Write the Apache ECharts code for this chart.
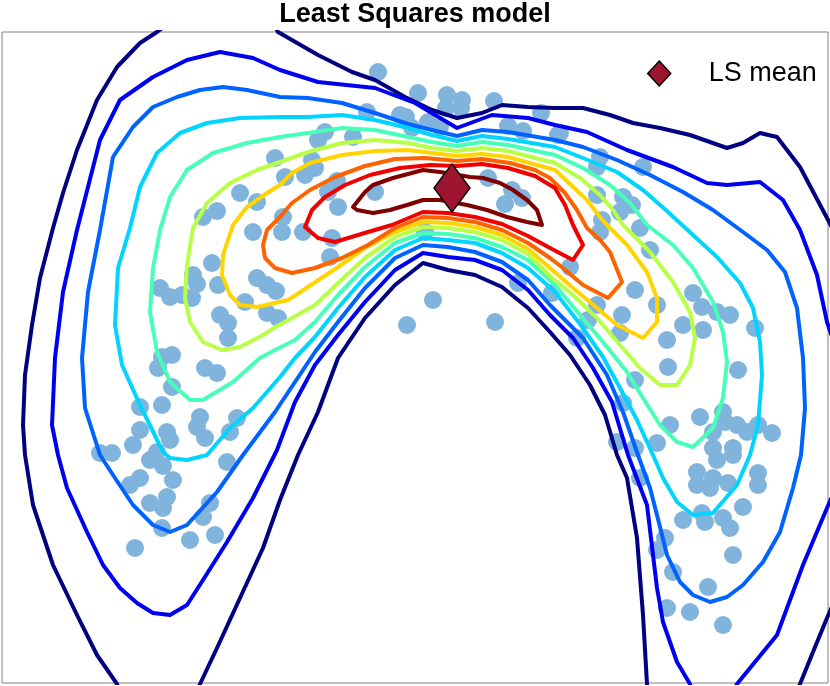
<!DOCTYPE html>
<html>
<head>
<meta charset="utf-8">
<script src="https://cdn.jsdelivr.net/npm/echarts@6/dist/echarts.min.js"></script>
<style>html,body{margin:0;padding:0;background:#fff}#c{width:830px;height:686px}</style>
</head>
<body>
<div id="c"></div>
<script>
// ---- data (x to the right, y downward) ----
const samples = [
[378,72],[418,93],[447,95],[462,100],[494,101],[446,108],[461,108],[406,117],[428,122],[440,127],[541,113],[560,133],[523,131],[508,126],[367,112],[400,115],[412,128],[325,132],[318,140],[353,137],[275,158],[312,160],[315,168],[285,177],[305,175],[337,181],[328,192],[375,192],[283,217],[338,207],[488,178],[512,190],[522,198],[505,204],
[240,193],[257,202],[217,211],[203,217],[253,232],[212,263],[193,275],[197,284],[160,288],[170,297],[182,295],[192,298],[218,285],[257,278],[267,285],[276,291],[245,302],[267,313],[278,318],[220,315],[228,323],[228,338],[282,232],[303,232],[332,238],[330,257],
[162,357],[172,355],[158,368],[172,387],[205,368],[217,373],[140,407],[162,405],[200,417],[197,427],[140,430],[167,432],[170,440],[205,438],[237,418],[230,432],[133,445],[100,453],[112,453],[150,460],[157,452],[163,466],[140,478],[130,485],[173,480],[150,503],[167,497],[163,508],[210,503],[203,517],[162,528],[190,540],[215,535],[135,548],[227,462],
[425,232],[433,300],[407,325],[495,322],[518,283],[552,293],
[558,135],[600,157],[597,167],[643,167],[597,195],[623,197],[632,205],[620,212],[602,220],[640,228],[600,232],[650,250],[570,267],[635,290],[597,305],[622,315],[657,305],[620,333],[588,320],[577,338],[667,340],[668,367],
[693,293],[702,307],[683,325],[703,330],[717,312],[730,315],[755,328],[738,370],[635,380],[623,403],[700,417],[670,425],[657,443],[723,412],[725,422],[737,425],[747,432],[758,425],[772,433],[713,432],[617,442],[635,448],[733,448],[713,448],
[717,460],[733,455],[697,472],[713,478],[697,485],[710,488],[728,483],[758,473],[758,485],[743,507],[683,520],[702,513],[705,522],[723,518],[730,528],[640,478],[665,538],[657,550],[733,555],[673,572],[708,587],[667,608],[690,612],[723,625]
];
const lsMean = [[452,188]];

const level1a = [[165,26],[157,32],[140,43],[117,67],[97,100],[77,150],[63,193],[53,228],[40,278],[32,325],[25,375],[23,425],[25,455],[33,505],[53,565],[77,615],[97,655],[117,684],[120,692]];
const level1b = [[197,692],[200,684],[217,648],[240,598],[263,548],[280,500],[298,455],[318,412],[338,358],[365,318],[395,285],[423,263],[448,270],[475,275],[502,287],[528,308],[550,332],[570,355],[590,385],[605,415],[617,455],[627,478],[637,538],[643,615],[647,684],[647,692]];
const level1c = [[275,26],[278,32],[318,55],[352,72],[375,80],[405,97],[432,110],[457,118],[482,113],[502,105],[528,107],[555,108],[583,108],[610,115],[633,123],[660,128],[690,135],[727,148],[743,143],[760,133],[777,137],[800,167],[827,218],[835,233]];
const level1d = [[797,692],[800,684],[813,652],[827,618],[835,600]];
const level2a = [[692,692],[690,684],[677,662],[663,622],[657,588],[647,505],[628,455],[612,402],[593,368],[573,338],[550,315],[528,290],[502,270],[475,260],[448,257],[423,253],[395,270],[365,302],[338,335],[315,365],[295,402],[277,450],[253,498],[227,542],[203,580],[187,605],[170,615],[153,613],[137,603],[120,588],[103,565],[87,532],[67,488],[58,455],[52,425],[55,358],[63,292],[77,230],[100,140],[120,100],[153,77],[187,60],[220,52],[253,58],[280,70],[318,82],[375,88],[415,103],[457,128],[492,115],[528,118],[555,125],[587,132],[627,150],[673,167],[707,183],[727,185],[760,182],[783,200],[800,230],[817,275],[827,322],[835,345]];
const level2b = [[835,490],[827,508],[803,565],[777,635],[737,684],[733,692]];
const level3 = [[100,230],[113,157],[133,127],[153,107],[177,97],[200,90],[223,87],[247,90],[280,97],[308,98],[342,103],[375,113],[408,124],[432,130],[457,136],[482,130],[508,132],[555,140],[583,147],[617,160],[650,175],[683,192],[713,210],[743,232],[767,250],[785,272],[797,308],[803,358],[805,408],[801,455],[793,488],[780,532],[763,562],[743,585],[727,597],[710,602],[693,595],[680,582],[667,555],[657,515],[650,488],[638,455],[623,412],[607,375],[583,338],[550,305],[528,280],[502,262],[475,252],[448,247],[423,245],[395,258],[365,288],[338,322],[315,352],[295,382],[275,412],[243,455],[217,492],[187,525],[170,532],[153,525],[133,505],[113,475],[100,455],[85,408],[82,358],[88,292],[100,230]];
const level4 = [[130,228],[140,187],[157,153],[180,133],[207,123],[240,118],[280,117],[308,117],[342,115],[375,120],[408,128],[432,135],[457,141],[482,136],[508,139],[555,147],[583,158],[617,172],[643,190],[668,212],[693,235],[717,257],[740,283],[753,308],[760,342],[762,375],[758,425],[750,455],[737,485],[713,513],[693,515],[677,502],[663,478],[653,455],[637,420],[620,388],[603,357],[580,324],[555,292],[528,268],[502,253],[475,243],[448,240],[423,238],[395,250],[365,277],[338,308],[315,337],[295,358],[280,377],[253,408],[230,428],[207,455],[187,460],[170,458],[163,452],[140,405],[122,365],[115,325],[118,268],[130,228]];
const level5 = [[160,230],[170,197],[187,170],[213,153],[247,143],[280,137],[308,133],[342,128],[375,130],[408,137],[432,142],[457,146],[482,142],[508,145],[555,155],[583,168],[610,185],[630,203],[647,225],[673,245],[693,268],[713,302],[723,332],[727,362],[723,398],[713,428],[693,447],[677,442],[660,425],[643,398],[627,372],[603,342],[580,315],[555,285],[528,260],[502,247],[475,238],[448,234],[423,233],[395,243],[365,267],[338,295],[315,322],[295,340],[277,349],[260,358],[233,382],[203,400],[190,400],[170,382],[157,352],[150,312],[153,268],[160,230]];
const level6 = [[193,228],[207,203],[230,183],[257,170],[280,162],[308,152],[342,143],[375,140],[408,143],[432,148],[457,151],[482,148],[508,151],[555,163],[580,178],[600,195],[613,210],[623,225],[650,252],[673,282],[690,312],[695,338],[690,365],[677,385],[660,385],[640,368],[620,345],[597,318],[573,295],[550,276],[528,254],[502,240],[475,232],[448,228],[423,227],[395,237],[365,258],[338,283],[315,305],[292,318],[277,326],[263,335],[240,347],[222,350],[203,342],[190,322],[185,298],[187,265],[193,228]];
const level7 = [[233,225],[247,207],[267,193],[280,185],[292,173],[310,163],[342,155],[375,151],[408,150],[432,153],[457,156],[482,154],[508,157],[555,170],[570,184],[587,200],[600,217],[607,225],[627,245],[647,272],[657,298],[657,322],[643,338],[617,325],[597,308],[573,288],[550,268],[528,249],[502,235],[475,227],[448,223],[423,222],[395,232],[365,248],[338,267],[308,287],[288,300],[275,303],[257,307],[240,305],[230,295],[222,275],[223,255],[233,225]];
const level8 = [[263,245],[267,230],[280,217],[292,203],[310,190],[335,177],[365,166],[395,159],[425,158],[457,161],[482,159],[510,163],[535,170],[550,178],[565,193],[577,210],[587,228],[600,240],[610,252],[622,282],[608,298],[583,285],[563,268],[550,258],[528,243],[502,230],[475,222],[448,218],[423,217],[395,228],[368,245],[342,258],[315,268],[292,273],[275,268],[265,258],[263,245]];
const level9 = [[305,227],[312,210],[325,197],[345,185],[370,175],[400,168],[430,165],[457,166],[482,164],[508,168],[535,176],[555,188],[565,205],[573,225],[583,245],[573,260],[550,248],[528,236],[502,224],[475,217],[448,213],[423,212],[392,225],[368,232],[335,242],[318,238],[305,227]];
const level10 = [[353,207],[365,192],[373,185],[393,178],[423,170],[440,172],[470,177],[483,178],[500,183],[513,190],[527,200],[537,210],[542,225],[527,222],[507,217],[487,210],[467,205],[440,200],[423,200],[407,205],[390,210],[373,213],[357,210],[353,207]];

const contourColors = ['#000080','#0000f1','#0063ff','#00d4ff','#47ffb8','#b8ff47','#ffd400','#ff6300','#f10000','#800000'];
const contourLevels = [[level1a,level1b,level1c,level1d],[level2a,level2b],[level3],[level4],[level5],[level6],[level7],[level8],[level9],[level10]];

// ---- chart ----
const chart = echarts.init(document.getElementById('c'), null, {renderer:'canvas'});
const series = [{
  type:'scatter', name:'samples', data:samples, symbol:'circle', symbolSize:18,
  itemStyle:{color:'#80b4dc', opacity:1}, z:1, silent:true
}];
contourLevels.forEach((pieces, i) => {
  pieces.forEach(p => series.push({
    type:'line', name:'level'+(i+1), data:p, showSymbol:false, symbol:'none', clip:true,
    lineStyle:{color:contourColors[i], width:4, cap:'round', join:'round'}, z:2, silent:true
  }));
});
series.push({
  type:'scatter', name:'LS mean', data:lsMean, symbol:'diamond', symbolSize:[36,48],
  itemStyle:{color:'#9e1530', borderColor:'#000', borderWidth:1.5, opacity:1}, z:5
});
chart.setOption({
  animation:false,
  backgroundColor:'#fff',
  title:{text:'Least Squares model', left:'center', top:1, padding:0,
    textStyle:{fontFamily:'Liberation Sans', fontWeight:'bold', fontSize:27, color:'#000'}},
  legend:{data:[{name:'LS mean', icon:'diamond'}], left:647, top:60, padding:0, itemWidth:23, itemHeight:25,
    textStyle:{fontFamily:'Liberation Sans', fontSize:27, color:'#000', padding:[0,0,0,33]},
    itemStyle:{color:'#9e1530', borderColor:'#000', borderWidth:1.5, opacity:1}},
  grid:{left:2, right:2, top:32, bottom:3, show:true, borderColor:'#808080', borderWidth:1, backgroundColor:'transparent'},
  xAxis:{type:'value', min:2, max:828, show:false},
  yAxis:{type:'value', min:32, max:683, inverse:true, show:false},
  series:series
});
</script>
</body>
</html>
